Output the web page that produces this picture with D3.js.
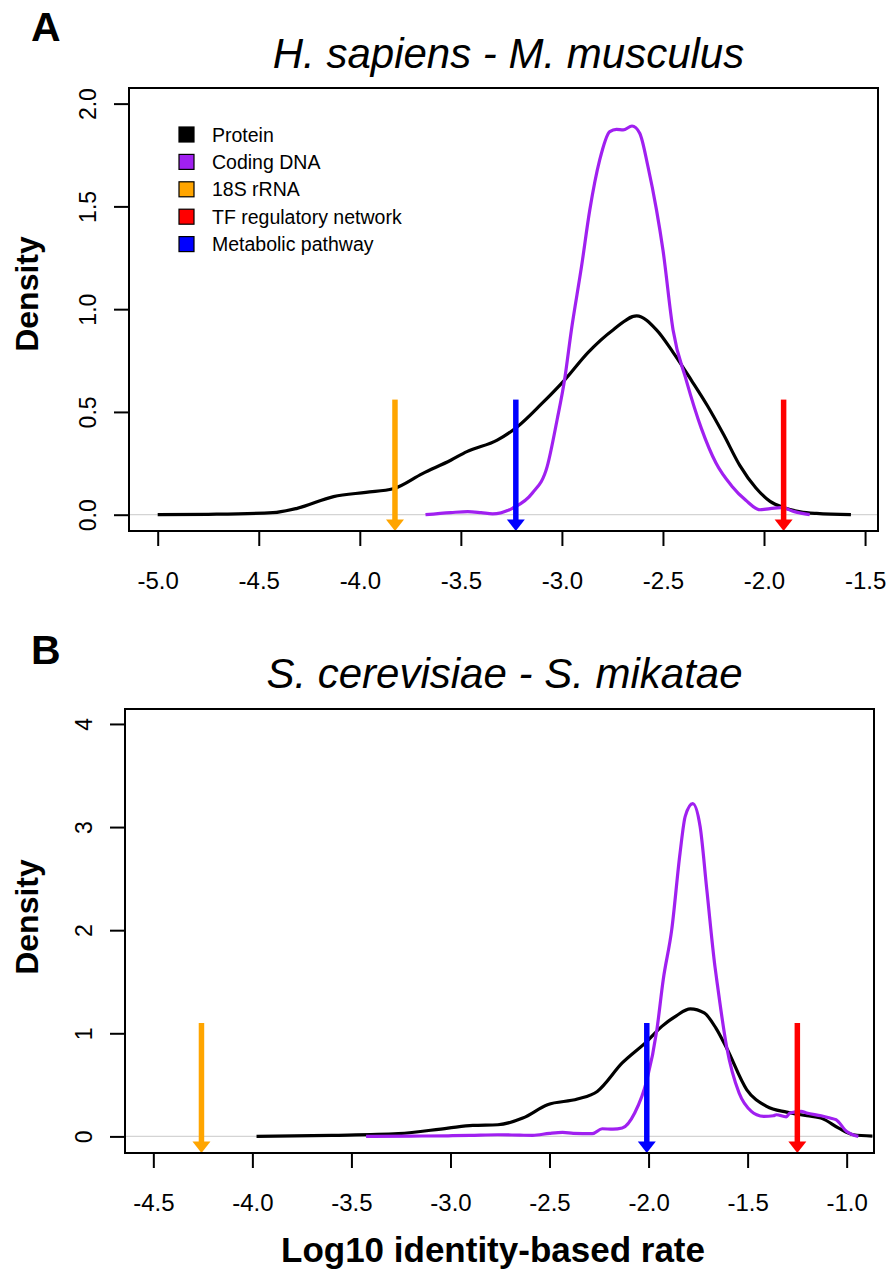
<!DOCTYPE html>
<html>
<head>
<meta charset="utf-8">
<script src="https://cdn.jsdelivr.net/npm/d3@7"></script>
<style>
  body { margin: 0; background: #fff; }
  svg { display: block; font-family: "Liberation Sans", Arial, Helvetica, sans-serif; }
</style>
</head>
<body>
<svg id="chart" width="889" height="1281"></svg>
<script>
// ---- Panel A: H. sapiens vs M. musculus (density of log10 identity-based rate) ----
const protA_x = [-5.0, -4.75, -4.43, -4.31, -4.13, -3.97, -3.835, -3.69, -3.55, -3.47, -3.32, -3.22, -3.1, -2.987, -2.87, -2.747, -2.63, -2.532, -2.45, -2.36, -2.28, -2.2, -2.12, -2.04, -1.97, -1.9, -1.82, -1.74, -1.57];
const protA_y = [0.0, 0.002, 0.01, 0.031, 0.088, 0.109, 0.126, 0.2, 0.265, 0.307, 0.363, 0.428, 0.54, 0.655, 0.79, 0.899, 0.967, 0.899, 0.79, 0.655, 0.53, 0.39, 0.24, 0.13, 0.065, 0.034, 0.014, 0.006, 0.0];
const cdsA_x = [-3.675, -3.55, -3.466, -3.4, -3.343, -3.245, -3.147, -3.073, -3.024, -2.987, -2.953, -2.903, -2.862, -2.813, -2.763, -2.73, -2.697, -2.653, -2.615, -2.574, -2.532, -2.5, -2.45, -2.385, -2.31, -2.237, -2.16, -2.09, -2.02, -1.97, -1.914, -1.85, -1.774];
const cdsA_y = [0.0, 0.01, 0.015, 0.01, 0.004, 0.031, 0.104, 0.234, 0.461, 0.655, 0.899, 1.207, 1.483, 1.726, 1.864, 1.875, 1.872, 1.891, 1.856, 1.693, 1.483, 1.288, 0.899, 0.655, 0.42, 0.25, 0.14, 0.07, 0.024, 0.03, 0.034, 0.015, 0.0];
// single-value rates: 18S rRNA, metabolic pathway, TF regulatory network
const markerA = [-3.826, -3.228, -1.903];
const markerTopA = 0.56;
const xTicksA = [-5.0, -4.5, -4.0, -3.5, -3.0, -2.5, -2.0, -1.5];
const yTicksA = [0.0, 0.5, 1.0, 1.5, 2.0];

// ---- Panel B: S. cerevisiae vs S. mikatae ----
const protB_x = [-3.979, -3.6, -3.263, -3.012, -2.887, -2.761, -2.635, -2.51, -2.359, -2.259, -2.133, -2.008, -1.933, -1.86, -1.789, -1.719, -1.66, -1.606, -1.504, -1.404, -1.303, -1.2, -1.12, -1.04, -0.966, -0.87];
const protB_y = [0.0, 0.01, 0.026, 0.081, 0.107, 0.113, 0.178, 0.307, 0.362, 0.436, 0.712, 0.922, 1.067, 1.17, 1.236, 1.197, 1.05, 0.857, 0.452, 0.291, 0.235, 0.2, 0.17, 0.08, 0.016, 0.003];
const cdsB_x = [-3.426, -3.2, -3.012, -2.9, -2.761, -2.65, -2.585, -2.5, -2.434, -2.38, -2.284, -2.234, -2.18, -2.133, -2.07, -2.008, -1.958, -1.926, -1.883, -1.841, -1.815, -1.777, -1.74, -1.706, -1.665, -1.656, -1.606, -1.543, -1.481, -1.454, -1.418, -1.37, -1.355, -1.305, -1.286, -1.23, -1.202, -1.129, -1.084, -1.054, -1.0, -0.941];
const cdsB_y = [0.0, 0.003, 0.006, 0.01, 0.016, 0.012, 0.01, 0.03, 0.039, 0.03, 0.026, 0.074, 0.07, 0.081, 0.227, 0.55, 1.035, 1.52, 2.005, 2.749, 3.104, 3.227, 3.007, 2.393, 1.649, 1.52, 0.87, 0.421, 0.243, 0.21, 0.194, 0.2, 0.21, 0.19, 0.227, 0.243, 0.227, 0.2, 0.178, 0.162, 0.048, 0.0];
const markerB = [-4.257, -2.009, -1.249];
const markerTopB = 1.1;
const xTicksB = [-4.5, -4.0, -3.5, -3.0, -2.5, -2.0, -1.5, -1.0];
const yTicksB = [0, 1, 2, 3, 4];

// ---- legend ----
const legendLabels = ["Protein", "Coding DNA", "18S rRNA", "TF regulatory network", "Metabolic pathway"];
const legendColors = ["#000000", "#A020F0", "#FFA500", "#FF0000", "#0000FF"];
const markerColors = ["#FFA500", "#0000FF", "#FF0000"];
const proteinColor = "#000000";
const cdsColor = "#A020F0";

const svg = d3.select("#chart");
const fmt1 = d => d.toFixed(1);
const fmt0 = d => d.toFixed(0);

const panels = [
  { tag: "A", title: "H. sapiens - M. musculus",
    box: { l: 129, r: 878, t: 88, b: 531 },
    xDom: [-5.142, -1.436], yDom: [-0.0793, 2.076],
    xTicks: xTicksA, yTicks: yTicksA, yFmt: fmt1,
    prot: [protA_x, protA_y], cds: [cdsA_x, cdsA_y],
    markers: markerA, markerTop: markerTopA,
    tagY: 41, titleY: 68, ylabY: 294, legend: true, xlab: false },
  { tag: "B", title: "S. cerevisiae - S. mikatae",
    box: { l: 125, r: 874, t: 709, b: 1153 },
    xDom: [-4.643, -0.862], yDom: [-0.161, 4.145],
    xTicks: xTicksB, yTicks: yTicksB, yFmt: fmt0,
    prot: [protB_x, protB_y], cds: [cdsB_x, cdsB_y],
    markers: markerB, markerTop: markerTopB,
    tagY: 664, titleY: 688, ylabY: 917, legend: false, xlab: true }
];

panels.forEach(p => {
  const b = p.box;
  const x = d3.scaleLinear().domain(p.xDom).range([b.l, b.r]);
  const y = d3.scaleLinear().domain(p.yDom).range([b.b, b.t]);
  const g = svg.append("g");

  // panel tag
  g.append("text").attr("x", 31).attr("y", p.tagY)
    .attr("font-size", 41).attr("font-weight", "bold").text(p.tag);

  // title
  g.append("text").attr("x", (b.l + b.r) / 2 + 5).attr("y", p.titleY)
    .attr("text-anchor", "middle").attr("font-size", 42).attr("font-style", "italic")
    .text(p.title);

  // zero reference line
  g.append("line").attr("x1", b.l).attr("x2", b.r)
    .attr("y1", y(0)).attr("y2", y(0))
    .attr("stroke", "#d4d4d4").attr("stroke-width", 1.2);

  // density curves
  const line = d3.line().x(d => x(d[0])).y(d => y(d[1])).curve(d3.curveMonotoneX);
  const protPts = p.prot[0].map((v, i) => [v, p.prot[1][i]]);
  const cdsPts = p.cds[0].map((v, i) => [v, p.cds[1][i]]);
  g.append("path").attr("d", line(protPts)).attr("fill", "none")
    .attr("stroke", proteinColor).attr("stroke-width", 3.2).attr("stroke-linejoin", "round");
  g.append("path").attr("d", line(cdsPts)).attr("fill", "none")
    .attr("stroke", cdsColor).attr("stroke-width", 3.2).attr("stroke-linejoin", "round");

  // marker arrows pointing to the axis
  const tipY = y(p.yDom[0]);
  const headH = 11.5, headW = 9;
  p.markers.forEach((m, i) => {
    const cx = x(m);
    g.append("line").attr("x1", cx).attr("x2", cx)
      .attr("y1", y(p.markerTop)).attr("y2", tipY - headH + 1)
      .attr("stroke", markerColors[i]).attr("stroke-width", 5.5);
    g.append("path")
      .attr("d", `M${cx - headW},${tipY - headH}L${cx + headW},${tipY - headH}L${cx},${tipY}Z`)
      .attr("fill", markerColors[i]);
  });

  // x axis
  const xa = g.append("g").attr("transform", `translate(0,${b.b})`)
    .call(d3.axisBottom(x).tickValues(p.xTicks).tickFormat(fmt1).tickSize(15).tickPadding(26));
  xa.select(".domain").remove();
  xa.selectAll(".tick line").attr("stroke-width", 2);
  xa.selectAll(".tick text").attr("font-size", 24).attr("font-family", null).attr("fill", "#000");

  // y axis with rotated labels
  const ya = g.append("g").attr("transform", `translate(${b.l},0)`)
    .call(d3.axisLeft(y).tickValues(p.yTicks).tickFormat(p.yFmt).tickSize(15));
  ya.select(".domain").remove();
  ya.selectAll(".tick line").attr("stroke-width", 2);
  ya.selectAll(".tick text")
    .attr("x", null).attr("dy", null)
    .attr("text-anchor", "middle")
    .attr("transform", "translate(-33,0) rotate(-90)")
    .attr("font-size", 23).attr("font-family", null).attr("fill", "#000");

  // frame
  g.append("rect").attr("x", b.l).attr("y", b.t)
    .attr("width", b.r - b.l).attr("height", b.b - b.t)
    .attr("fill", "none").attr("stroke", "#000").attr("stroke-width", 2);

  // y label
  g.append("text").attr("transform", `translate(38,${p.ylabY}) rotate(-90)`)
    .attr("text-anchor", "middle").attr("font-size", 32).attr("font-weight", "bold")
    .text("Density");

  if (p.xlab) {
    g.append("text").attr("x", 493).attr("y", 1262)
      .attr("text-anchor", "middle").attr("font-size", 35).attr("font-weight", "bold")
      .text("Log10 identity-based rate");
  }

  if (p.legend) {
    const lg = g.append("g");
    legendLabels.forEach((lab, i) => {
      const cy = 134.5 + i * 27.4;
      lg.append("rect").attr("x", 179).attr("y", cy - 7.5).attr("width", 15).attr("height", 15)
        .attr("fill", legendColors[i]).attr("stroke", "#000").attr("stroke-width", 1.2);
      lg.append("text").attr("x", 212).attr("y", cy).attr("dy", "0.36em")
        .attr("font-size", 19.5).text(lab);
    });
  }
});
</script>
</body>
</html>
